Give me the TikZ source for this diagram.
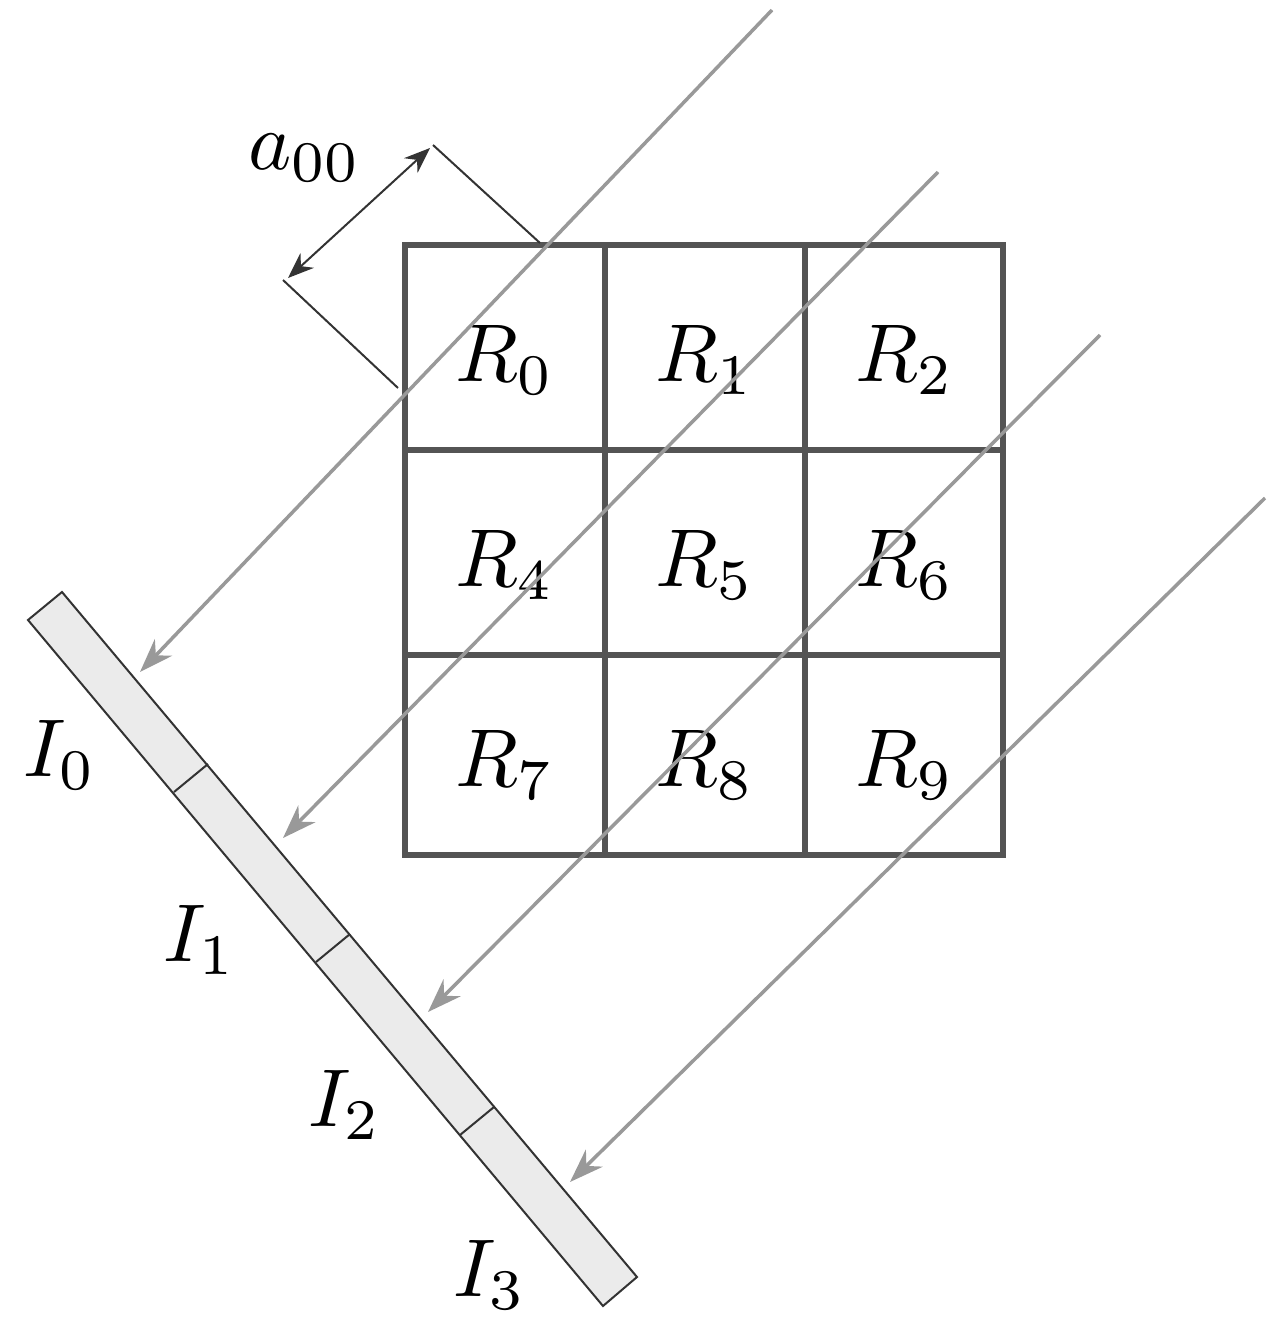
\documentclass[tikz,border=0pt]{standalone}
\usepackage{graphicx}
\usetikzlibrary{arrows.meta}
\newcommand{\bigmath}[1]{\scalebox{8.2}{$#1$}}
\begin{document}
\begin{tikzpicture}[x=1pt,y=-1pt,
  grid/.style={draw=black!67,line width=6pt},
  ray/.style={draw=black!40,line width=3.5pt,-{Stealth[length=34pt,width=24pt]}},
  lbl/.style={inner sep=0pt},
  thin/.style={draw=black!80,line width=2pt}]
\useasboundingbox (0,0) rectangle (1285,1334);
% strip
\coordinate (s1) at (28,620); \coordinate (s2) at (62,592);
\coordinate (s3) at (637,1277); \coordinate (s4) at (603,1306);
\draw[thin,fill=black!8] (s1)--(s2)--(s3)--(s4)--cycle;
\draw[thin] (174,792)--(208,764);
\draw[thin] (316,962)--(350,934);
\draw[thin] (460,1135)--(494,1107);
% grid
\draw[grid] (405,245) rectangle (1003,855);
\draw[grid] (605,245)--(605,855) (805,245)--(805,855);
\draw[grid] (405,450)--(1003,450) (405,655)--(1003,655);
\foreach \t/\x/\y in {0/505/360,1/705/360,2/905/360,4/505/565,5/705/565,6/905/565,7/505/765,8/705/765,9/905/765}
  \node[lbl] (r\t) at (\x,\y) {\bigmath{R_{\t}}};
% dimension
\draw[thin] (433,145)--(540,243);
\draw[thin] (283,280)--(398,388);
\draw[thin,{Stealth[length=26pt,width=20pt]}-{Stealth[length=26pt,width=20pt]}] (288,278)--(430,148);
\node[lbl] (a) at (305,158) {\bigmath{a_{00}}};
% rays
\coordinate (e1) at (140,672); \coordinate (e2) at (283,838);
\coordinate (e3) at (428,1012); \coordinate (e4) at (570,1182);
\draw[ray] (772,10)--(e1);
\draw[ray] (938,172)--(e2);
\draw[ray] (1100,335)--(e3);
\draw[ray] (1265,498)--(e4);
% I labels
\node[lbl] (i0) at (60,755) {\bigmath{I_0}};
\node[lbl] (i1) at (200,940) {\bigmath{I_1}};
\node[lbl] (i2) at (345,1105) {\bigmath{I_2}};
\node[lbl] (i3) at (490,1275) {\bigmath{I_3}};
\end{tikzpicture}
\end{document}
